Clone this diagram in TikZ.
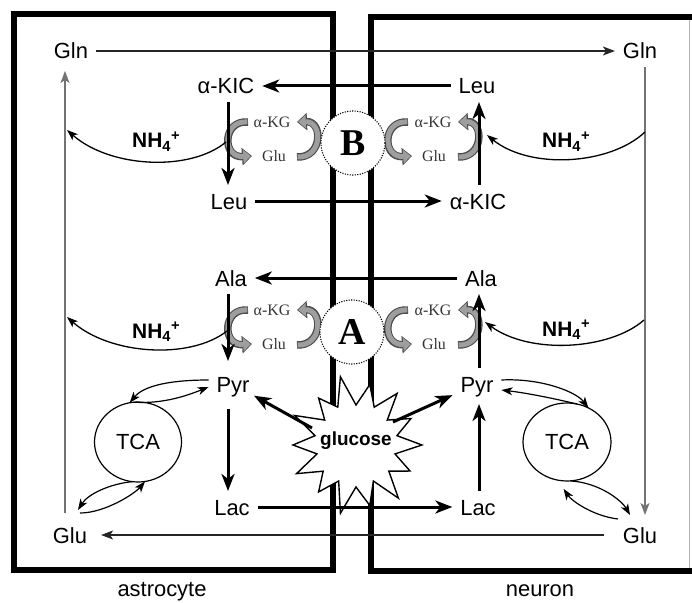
\documentclass[tikz,border=0pt]{standalone}
\usepackage{fontspec}
\setmainfont{Liberation Sans}
\newfontfamily\serifx{Liberation Serif}
\usetikzlibrary{arrows.meta,shapes.geometric}
\begin{document}
\begin{tikzpicture}[x=1bp,y=-1bp,
  lbl/.style={font=\fontsize{22}{24}\selectfont, inner sep=0pt, outer sep=8bp, text height=16bp, text depth=0bp},
  nhx/.style={font=\bfseries\fontsize{21}{24}\selectfont, inner sep=0pt, anchor=base west},
  enz/.style={font=\serifx\fontsize{16}{18}\selectfont, text=black!80, inner sep=0pt},
  cell/.style={line width=5.5bp, line join=miter},
  big/.style={line width=3bp, -{Stealth[length=17bp,width=13bp,inset=5bp]}},
  thinarr/.style={line width=1.4bp, draw=black!85, -{Stealth[length=12bp,width=9bp,inset=3bp]}},
  vthin/.style={line width=1.4bp, draw=black!55, -{Stealth[length=12bp,width=9bp,inset=3bp]}},
  nharr/.style={line width=1.3bp, -{Stealth[length=11bp,width=8bp,inset=3bp]}},
  tcaarr/.style={line width=1.2bp, -{Stealth[length=11bp,width=8bp,inset=3bp]}},
  garc/.style={line width=7.5bp, draw=black!70, -{Triangle[length=10bp,width=17bp]},
    postaction={draw=black!38, line width=5bp, shorten >=1.2bp, shorten <=0.6bp, -{Triangle[length=7.6bp,width=13.2bp]}}},
  tca/.style={ellipse, draw, line width=1.2bp, inner sep=0pt, outer sep=0pt, font=\fontsize{22}{24}\selectfont},
  site/.style={circle, draw, fill=white, minimum size=64bp, inner sep=0pt, line width=1.1bp, dash pattern=on 1.1bp off 1.4bp, font=\serifx\bfseries\fontsize{38}{38}\selectfont}
]
\useasboundingbox (0,0) rectangle (692,603);

% cell walls
\draw[cell] (14,14) rectangle (333,570);
\draw[cell] (700,17) -- (371,17) -- (371,571) -- (700,571);
\draw[line width=0.8bp, black!30] (689,20) -- (689,568);

% transamination groups
\foreach \g/\dy in {B/0,A/188}{
 \begin{scope}[shift={(0,\dy)}]
  \draw[garc] (248,122) .. controls (222,120) and (222,158) .. (252,156);
  \draw[garc] (297,157) .. controls (323,158) and (323,121) .. (297,122);
  \draw[garc] (408,122) .. controls (382,120) and (382,158) .. (412,156);
  \draw[garc] (458,157) .. controls (484,158) and (484,121) .. (458,122);
  \node[enz] (kgL\g) at (272,122) {α-KG};
  \node[enz] (glL\g) at (274,156) {Glu};
  \node[enz] (kgR\g) at (433,122) {α-KG};
  \node[enz] (glR\g) at (434,156) {Glu};
 \end{scope}
}

% sites
\node[site] (siteB) at (353,143) {B};
\node[site] (siteA) at (352,332) {A};

% glucose star
\begin{scope}[shift={(356,445)}]
\draw[line width=1.4bp, fill=white, miter limit=25] (0:66)
  \foreach \k/\r/\q in {1/60/40,2/68/42,3/62/40,4/70/42,5/60/40,6/66/42,7/63/40,8/68/42,9/60/40,10/70/42,11/62/40,12/66/42,13/61/40}
  { -- ({\k*25.714-12.857}:\q) -- ({\k*25.714}:\r) } -- (-12.857:42) -- cycle;
\end{scope}
\node[font=\bfseries\fontsize{19}{21}\selectfont, inner sep=0pt] (glc) at (356,441) {glucose};
\coordinate (sL) at (312,428);
\coordinate (sR) at (393,422);

% metabolite labels
\coordinate (colL) at (228,0);
\coordinate (colR) at (479,0);
\coordinate (gl) at (65,0);
\coordinate (gr) at (645,0);
\node[lbl] (glnL) at (71,51) {Gln};
\node[lbl] (glnR) at (640,51) {Gln};
\node[lbl] (kicL) at (226,86) {α-KIC};
\node[lbl] (leuT) at (477,86) {Leu};
\node[lbl] (leuB) at (229,201) {Leu};
\node[lbl] (kicR) at (478,201) {α-KIC};
\node[lbl] (alaL) at (231,278) {Ala};
\node[lbl] (alaR) at (481,278) {Ala};
\node[lbl] (pyrL) at (233,384) {Pyr};
\node[lbl] (pyrR) at (477,384) {Pyr};
\node[lbl] (lacL) at (232,507) {Lac};
\node[lbl] (lacR) at (478,507) {Lac};
\node[lbl] (gluL) at (70,535) {Glu};
\node[lbl] (gluR) at (640,535) {Glu};

% TCA cycles
\node[tca, minimum width=87bp, minimum height=80bp] (tcaL) at (138,442) {TCA};
\node[tca, minimum width=88bp, minimum height=78bp] (tcaR) at (567,442) {TCA};

% NH4+ labels
\node[nhx] (nh1) at (132,148) {NH\textsubscript{4}\textsuperscript{+}};
\node[nhx] (nh2) at (542,148) {NH\textsubscript{4}\textsuperscript{+}};
\node[nhx] (nh3) at (132,338) {NH\textsubscript{4}\textsuperscript{+}};
\node[nhx] (nh4) at (542,336) {NH\textsubscript{4}\textsuperscript{+}};

% cell labels
\node[font=\fontsize{22}{24}\selectfont, inner sep=0pt, anchor=base] (astro) at (162,596) {astrocyte};
\node[font=\fontsize{22}{24}\selectfont, inner sep=0pt, anchor=base] (neur) at (540,596) {neuron};

% thick arrows
\draw[big] (leuT.west) -- (kicL.east);
\draw[big] (kicL.south -| colL) -- (leuB.north -| colL);
\draw[big] (leuB.east) -- (kicR.west);
\draw[big] (kicR.north -| colR) -- (leuT.south -| colR);
\draw[big] (alaR.west) -- (alaL.east);
\draw[big, shorten >=7bp] (alaL.south -| colL) -- (pyrL.north -| colL);
\draw[big] (pyrR.north -| colR) -- (alaR.south -| colR);
\draw[big, shorten <=9bp] (pyrL.south -| colL) -- (lacL.north -| colL);
\draw[big, shorten >=4bp] (lacR.north -| colR) -- (pyrR.south -| colR);
\draw[big] (lacL.east) -- (lacR.west);
\draw[big, shorten >=24bp] (sL) -- (pyrL.center);
\draw[big, shorten >=27bp] (sR) -- (pyrR.center);

% thin arrows
\draw[thinarr] (glnL.east) -- (glnR.west);
\draw[thinarr, shorten <=11bp, shorten >=6bp] (gluR.west) -- (gluL.east);
\draw[vthin, shorten <=6bp, shorten >=4bp] (gluL.north -| gl) -- (glnL.south -| gl);
\draw[vthin, shorten >=4bp] (glnR.south -| gr) -- (gluR.north -| gr);

% NH4+ release curves
\coordinate (n1s) at (226,142); \coordinate (n1e) at (67,130);
\coordinate (n2s) at (645,132); \coordinate (n2e) at (487,135);
\coordinate (n3s) at (227,331); \coordinate (n3e) at (67,317);
\coordinate (n4s) at (644,320); \coordinate (n4e) at (485,322);
\draw[nharr] (n1s) .. controls (190,172) and (110,168) .. (n1e);
\draw[nharr] (n2s) .. controls (610,165) and (530,170) .. (n2e);
\draw[nharr] (n3s) .. controls (190,360) and (110,355) .. (n3e);
\draw[nharr] (n4s) .. controls (610,350) and (530,355) .. (n4e);

% TCA exchanges
\draw[tcaarr] ([yshift=4bp]pyrL.west) .. controls +(-35,0) and +(15,-18) .. (tcaL.102);
\draw[tcaarr] (tcaL.96) .. controls +(30,2) and +(-20,8) .. ([yshift=-3bp]pyrL.west);
\draw[tcaarr] (tcaL.262) .. controls +(-22,2) and +(10,-16) .. ([xshift=8bp,yshift=9bp]gluL.north);
\draw[tcaarr] ([xshift=10bp,yshift=6bp]gluL.north) .. controls +(25,0) and +(-10,12) .. (tcaL.280);
\draw[tcaarr] ([yshift=4bp]pyrR.east) .. controls +(40,-2) and +(-12,-16) .. (tcaR.58);
\draw[tcaarr] (tcaR.75) .. controls +(-25,-6) and +(25,3) .. ([yshift=-6bp]pyrR.east);
\draw[tcaarr] (tcaR.275) .. controls +(30,2) and +(-8,-14) .. ([xshift=-10bp,yshift=4bp]gluR.north);
\draw[tcaarr] ([xshift=-22bp]gluR.north) .. controls +(-25,-3) and +(8,12) .. ([yshift=-8bp]tcaR.265);
\end{tikzpicture}
\end{document}
